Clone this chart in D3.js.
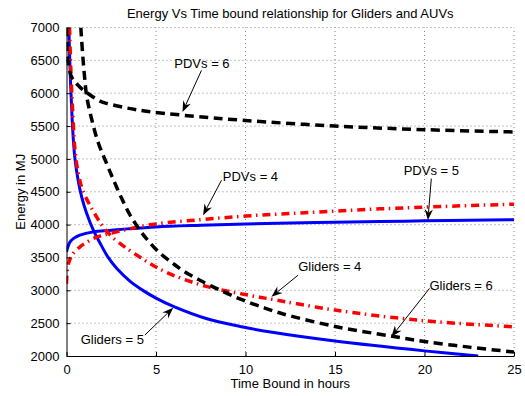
<!DOCTYPE html>
<html>
<head>
<meta charset="utf-8">
<script src="https://cdn.jsdelivr.net/npm/d3@7"></script>
<style>
  body { margin: 0; background: #fff; }
  svg { display: block; font-family: "Liberation Sans", Arial, Helvetica, sans-serif; }
</style>
</head>
<body>
<svg id="chart" width="525" height="396"></svg>
<script>
// Time bound (hours) and energy (MJ) for each fleet configuration
const gliders5T = [0.13, 0.2, 0.3, 0.38, 0.47, 0.66, 0.85, 1.13, 1.5, 1.87, 2.33, 2.8, 3.54, 4.29, 5, 6, 7.8, 9.7, 11.4, 15, 20, 23];
const gliders5E = [7000, 6350, 5700, 5300, 5010, 4660, 4420, 4170, 3915, 3720, 3500, 3335, 3140, 2995, 2880, 2750, 2570, 2450, 2365, 2228, 2078, 2000];

const pdvs5T = [0, 0.1, 0.2, 0.4, 0.75, 1.5, 2.4, 3.4, 5, 7.5, 10, 12.5, 15, 17.5, 20, 22.5, 25];
const pdvs5E = [3585, 3680, 3737, 3790, 3839, 3889, 3912, 3935, 3965, 3990, 4010, 4025, 4037, 4047, 4057, 4066, 4075];

const gliders4T = [0.17, 0.25, 0.35, 0.47, 0.66, 0.94, 1.31, 1.68, 2.05, 2.6, 3.36, 4.3, 5, 6, 7.8, 9.5, 10.8, 11.5, 15, 20, 25];
const gliders4E = [7000, 6300, 5700, 5150, 4777, 4497, 4295, 4117, 3965, 3800, 3640, 3470, 3355, 3225, 3060, 2960, 2895, 2862, 2699, 2536, 2445];

const pdvs4T = [0, 0.05, 0.15, 0.3, 0.5, 0.75, 1, 1.5, 2, 2.5, 3.5, 5, 7.5, 10, 12.5, 15, 17.5, 20, 22.5, 25];
const pdvs4E = [3100, 3330, 3440, 3530, 3600, 3660, 3710, 3790, 3835, 3870, 3935, 4010, 4075, 4130, 4170, 4205, 4240, 4265, 4290, 4310];

const gliders6T = [0.8, 0.9, 1, 1.13, 1.41, 1.77, 2.24, 2.61, 3.08, 3.54, 4.1, 4.5, 5.2, 5.9, 6.5, 7.4, 8.75, 9.87, 11.08, 12.1, 15, 18.2, 20, 22.5, 25];
const gliders6E = [7000, 6600, 6280, 5950, 5600, 5250, 4930, 4690, 4400, 4150, 3915, 3775, 3570, 3420, 3300, 3160, 2980, 2850, 2730, 2640, 2450, 2300, 2220, 2135, 2060];

const pdvs6T = [0, 0.01, 0.04, 0.12, 0.29, 0.57, 0.75, 1.22, 1.87, 2.24, 3.36, 4.47, 6.5, 10, 15, 20, 25];
const pdvs6E = [7000, 6900, 6560, 6400, 6245, 6144, 6093, 5992, 5880, 5845, 5775, 5725, 5665, 5585, 5500, 5445, 5410];

const xTicks = [0, 5, 10, 15, 20, 25];
const yTicks = [2000, 2500, 3000, 3500, 4000, 4500, 5000, 5500, 6000, 6500, 7000];

// Callouts: label, arrow tail and arrow tip in data units
const callouts = [
  { label: "PDVs = 6",    tail: [7.54, 6347],  tip: [6.48, 5713] },
  { label: "PDVs = 4",    tail: [8.66, 4675],  tip: [7.63, 4143] },
  { label: "PDVs = 5",    tail: [20.38, 4700], tip: [20.19, 4067] },
  { label: "Gliders = 4", tail: [12.94, 3231], tip: [11.45, 2901] },
  { label: "Gliders = 6", tail: [20.28, 3029], tip: [18.15, 2293] },
  { label: "Gliders = 5", tail: [4.38, 2319],  tip: [5.96, 2734] }
];

// text placement relative to the arrow tail
const calloutText = {
  "PDVs = 6":    { anchor: "middle", dx: 0.5, dy: -7 },
  "PDVs = 4":    { anchor: "start",  dx: 1.3, dy: -3.5 },
  "PDVs = 5":    { anchor: "middle", dx: 0,   dy: -8.5 },
  "Gliders = 4": { anchor: "start",  dx: 0,   dy: -8.5 },
  "Gliders = 6": { anchor: "start",  dx: 0,   dy: -2.5 },
  "Gliders = 5": { anchor: "end",    dx: -1,  dy: 4.5 }
};

const series = [
  { t: gliders5T, e: gliders5E, color: "#0000ff", width: 3,   dash: null },
  { t: pdvs5T,    e: pdvs5E,    color: "#0000ff", width: 3,   dash: null },
  { t: gliders4T, e: gliders4E, color: "#ff0000", width: 3.5, dash: "8,4.5,1.5,5" },
  { t: pdvs4T,    e: pdvs4E,    color: "#ff0000", width: 3.5, dash: "8,4.5,1.5,5" },
  { t: gliders6T, e: gliders6E, color: "#000000", width: 3.5, dash: "9,5.5" },
  { t: pdvs6T,    e: pdvs6E,    color: "#000000", width: 3.5, dash: "9,5.5" }
];

const W = 525, H = 396;
const m = { left: 66.5, right: 11, top: 27.5, bottom: 40 };
const svg = d3.select("#chart");

const x = d3.scaleLinear().domain([0, 25]).range([m.left, W - m.right]);
const y = d3.scaleLinear().domain([2000, 7000]).range([H - m.bottom, m.top]);

const FS = 13;

// dotted grid
const grid = svg.append("g").attr("stroke", "#555").attr("stroke-width", 0.7)
  .attr("stroke-dasharray", "1,3");
grid.selectAll("line.v").data(xTicks.filter(d => d > 0)).join("line")
  .attr("x1", d => x(d)).attr("x2", d => x(d))
  .attr("y1", y(2000)).attr("y2", y(7000));
grid.selectAll("line.h").data(yTicks.filter(d => d > 2000)).join("line")
  .attr("x1", x(0)).attr("x2", x(25))
  .attr("y1", d => y(d)).attr("y2", d => y(d));

// clip area for curves
svg.append("clipPath").attr("id", "plotClip").append("rect")
  .attr("x", x(0)).attr("y", y(7000))
  .attr("width", x(25) - x(0)).attr("height", y(2000) - y(7000));

const line = d3.line().curve(d3.curveCatmullRom.alpha(0.5));
const curves = svg.append("g").attr("clip-path", "url(#plotClip)").attr("fill", "none");
series.forEach(s => {
  const pts = s.t.map((t, i) => [x(t), y(s.e[i])]);
  curves.append("path")
    .attr("d", line(pts))
    .attr("stroke", s.color)
    .attr("stroke-width", s.width)
    .attr("stroke-dasharray", s.dash)
    .attr("stroke-linejoin", "round");
});

// axes (ticks point inward)
const xAxis = d3.axisBottom(x).tickValues(xTicks).tickSizeInner(-4).tickSizeOuter(0).tickPadding(9);
const yAxis = d3.axisLeft(y).tickValues(yTicks).tickFormat(d3.format("d"))
  .tickSizeInner(-4).tickSizeOuter(0).tickPadding(7);

const gx = svg.append("g").attr("transform", `translate(0,${y(2000)})`).call(xAxis);
const gy = svg.append("g").attr("transform", `translate(${x(0)},0)`).call(yAxis);
[gx, gy].forEach(g => {
  g.select(".domain").attr("stroke", "#000").attr("stroke-width", 1);
  g.selectAll(".tick line").attr("stroke", "#000").attr("stroke-width", 1);
  g.selectAll(".tick text").attr("fill", "#000")
    .attr("font-size", FS).attr("font-family", "Liberation Sans, Arial, sans-serif");
});

// title and axis labels
svg.append("text").attr("x", (x(0) + x(25)) / 2).attr("y", 18)
  .attr("text-anchor", "middle").attr("font-size", FS)
  .text("Energy Vs Time bound relationship for Gliders and AUVs");
svg.append("text").attr("x", (x(0) + x(25)) / 2).attr("y", 388)
  .attr("text-anchor", "middle").attr("font-size", FS)
  .text("Time Bound in hours");
svg.append("text")
  .attr("transform", `translate(25,${(y(2000) + y(7000)) / 2}) rotate(-90)`)
  .attr("text-anchor", "middle").attr("font-size", FS)
  .text("Energy in MJ");

// callouts with arrows
const ann = svg.append("g");
callouts.forEach(c => {
  const x0 = x(c.tail[0]), y0 = y(c.tail[1]);
  const x1 = x(c.tip[0]), y1 = y(c.tip[1]);
  const ang = Math.atan2(y1 - y0, x1 - x0);
  const L = 11, hw = 4.2, notch = 7.5;
  const ux = Math.cos(ang), uy = Math.sin(ang);
  const px = -uy, py = ux;
  ann.append("line")
    .attr("x1", x0).attr("y1", y0)
    .attr("x2", x1 - ux * notch).attr("y2", y1 - uy * notch)
    .attr("stroke", "#000").attr("stroke-width", 1);
  const head = [
    [x1, y1],
    [x1 - ux * L + px * hw, y1 - uy * L + py * hw],
    [x1 - ux * notch, y1 - uy * notch],
    [x1 - ux * L - px * hw, y1 - uy * L - py * hw]
  ];
  ann.append("path").attr("d", "M" + head.map(p => p.join(",")).join("L") + "Z")
    .attr("fill", "#000");
  const tp = calloutText[c.label];
  ann.append("text")
    .attr("x", x0 + tp.dx).attr("y", y0 + tp.dy)
    .attr("dy", "0.35em")
    .attr("text-anchor", tp.anchor)
    .attr("font-size", FS)
    .text(c.label);
});
</script>
</body>
</html>
